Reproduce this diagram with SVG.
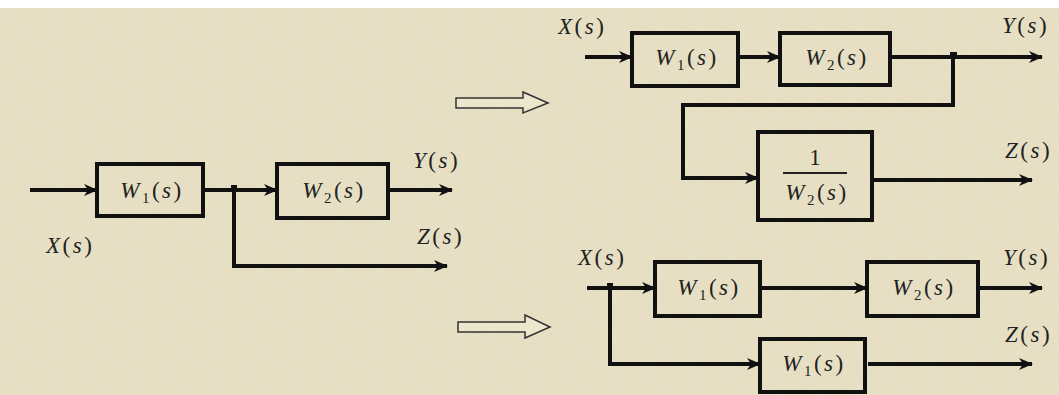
<svg xmlns="http://www.w3.org/2000/svg" width="1059" height="395" viewBox="0 0 1059 395">
<defs>
<style>
.box{fill:none;stroke:#111;stroke-width:4}
.wire{fill:none;stroke:#111;stroke-width:4}
.lbl{font-family:"Liberation Serif","Times New Roman",serif;font-size:23px;fill:#222;letter-spacing:2.5px}
.it{font-style:italic}
.sub{font-size:15px}
.hollow{fill:#ece6cc;stroke:#333;stroke-width:1.5}
</style>
<marker id="ah" markerUnits="userSpaceOnUse" markerWidth="14" markerHeight="12" refX="13" refY="6" orient="auto">
<path d="M0,0 L14,6 L0,12 L4,6 z" fill="#111"/>
</marker>
<pattern id="tex" width="40" height="40" patternUnits="userSpaceOnUse">
<rect width="40" height="40" fill="#e6dfc3"/>
<path d="M0,30 L40,10" stroke="#ddd6b8" stroke-width="0.6"/>
<path d="M5,0 L25,40" stroke="#ebe5cc" stroke-width="0.6"/>
</pattern>
</defs>
<rect width="1059" height="395" fill="url(#tex)"/>
<rect width="1059" height="8" fill="#ffffff"/>

<g id="connectors">
<line class="wire" x1="30" y1="190" x2="97" y2="190" marker-end="url(#ah)"/>
<line class="wire" x1="203" y1="190" x2="277" y2="190" marker-end="url(#ah)"/>
<line class="wire" x1="388" y1="190" x2="452" y2="190" marker-end="url(#ah)"/>
<polyline class="wire" points="234,188 234,266 447,266" marker-end="url(#ah)"/>
<rect x="231" y="185" width="6" height="6" fill="#111"/>
<line class="wire" x1="585" y1="57" x2="632" y2="57" marker-end="url(#ah)"/>
<line class="wire" x1="738" y1="57" x2="780" y2="57" marker-end="url(#ah)"/>
<line class="wire" x1="890" y1="57" x2="1042" y2="57" marker-end="url(#ah)"/>
<polyline class="wire" points="953,55 953,105 683,105 683,178 758,178" marker-end="url(#ah)"/>
<rect x="950" y="52" width="7" height="7" fill="#111"/>
<line class="wire" x1="872" y1="180" x2="1032" y2="180" marker-end="url(#ah)"/>
<line class="wire" x1="587" y1="288" x2="655" y2="288" marker-end="url(#ah)"/>
<line class="wire" x1="760" y1="288" x2="867" y2="288" marker-end="url(#ah)"/>
<line class="wire" x1="978" y1="288" x2="1042" y2="288" marker-end="url(#ah)"/>
<polyline class="wire" points="610,286 610,364 760,364" marker-end="url(#ah)"/>
<rect x="607" y="283" width="6" height="6" fill="#111"/>
<line class="wire" x1="868" y1="364" x2="1032" y2="364" marker-end="url(#ah)"/>
<path class="hollow" d="M456,98 L523,98 L523,92 L548,103 L523,113 L523,108 L456,108 z"/>
<path class="hollow" d="M458,322 L525,322 L525,315 L550,327 L525,338 L525,332 L458,332 z"/>
</g>

<g id="L_W1">
<rect class="box" x="97" y="164" width="106" height="52"/>
<text class="lbl" x="152" y="198" text-anchor="middle"><tspan class="it">W</tspan><tspan class="sub" dy="5">1</tspan><tspan dy="-5">(</tspan><tspan class="it">s</tspan>)</text>
</g>
<g id="L_W2">
<rect class="box" x="277" y="164" width="111" height="54"/>
<text class="lbl" x="334" y="198" text-anchor="middle"><tspan class="it">W</tspan><tspan class="sub" dy="5">2</tspan><tspan dy="-5">(</tspan><tspan class="it">s</tspan>)</text>
</g>
<g id="L_labels">
<text class="lbl" x="46" y="253"><tspan class="it">X</tspan>(<tspan class="it">s</tspan>)</text>
<text class="lbl" x="413" y="168"><tspan class="it">Y</tspan>(<tspan class="it">s</tspan>)</text>
<text class="lbl" x="417" y="244"><tspan class="it">Z</tspan>(<tspan class="it">s</tspan>)</text>
</g>

<g id="T_W1">
<rect class="box" x="632" y="33" width="106" height="53"/>
<text class="lbl" x="687" y="65" text-anchor="middle"><tspan class="it">W</tspan><tspan class="sub" dy="5">1</tspan><tspan dy="-5">(</tspan><tspan class="it">s</tspan>)</text>
</g>
<g id="T_W2">
<rect class="box" x="780" y="33" width="110" height="52"/>
<text class="lbl" x="837" y="65" text-anchor="middle"><tspan class="it">W</tspan><tspan class="sub" dy="5">2</tspan><tspan dy="-5">(</tspan><tspan class="it">s</tspan>)</text>
</g>
<g id="T_inv">
<rect class="box" x="758" y="132" width="114" height="88"/>
<text class="lbl" x="815" y="165" text-anchor="middle" style="letter-spacing:0">1</text>
<line x1="783" y1="173" x2="847" y2="173" stroke="#222" stroke-width="2"/>
<text class="lbl" x="817" y="200" text-anchor="middle"><tspan class="it">W</tspan><tspan class="sub" dy="5">2</tspan><tspan dy="-5">(</tspan><tspan class="it">s</tspan>)</text>
</g>
<g id="T_labels">
<text class="lbl" x="558" y="34"><tspan class="it">X</tspan>(<tspan class="it">s</tspan>)</text>
<text class="lbl" x="1002" y="33"><tspan class="it">Y</tspan>(<tspan class="it">s</tspan>)</text>
<text class="lbl" x="1005" y="158"><tspan class="it">Z</tspan>(<tspan class="it">s</tspan>)</text>
</g>

<g id="B_W1">
<rect class="box" x="655" y="262" width="105" height="54"/>
<text class="lbl" x="709" y="295" text-anchor="middle"><tspan class="it">W</tspan><tspan class="sub" dy="5">1</tspan><tspan dy="-5">(</tspan><tspan class="it">s</tspan>)</text>
</g>
<g id="B_W2">
<rect class="box" x="867" y="262" width="111" height="54"/>
<text class="lbl" x="924" y="295" text-anchor="middle"><tspan class="it">W</tspan><tspan class="sub" dy="5">2</tspan><tspan dy="-5">(</tspan><tspan class="it">s</tspan>)</text>
</g>
<g id="B_W1b">
<rect class="box" x="760" y="339" width="105" height="53"/>
<text class="lbl" x="814" y="371" text-anchor="middle"><tspan class="it">W</tspan><tspan class="sub" dy="5">1</tspan><tspan dy="-5">(</tspan><tspan class="it">s</tspan>)</text>
</g>
<g id="B_labels">
<text class="lbl" x="578" y="265"><tspan class="it">X</tspan>(<tspan class="it">s</tspan>)</text>
<text class="lbl" x="1003" y="265"><tspan class="it">Y</tspan>(<tspan class="it">s</tspan>)</text>
<text class="lbl" x="1005" y="342"><tspan class="it">Z</tspan>(<tspan class="it">s</tspan>)</text>
</g>
</svg>
